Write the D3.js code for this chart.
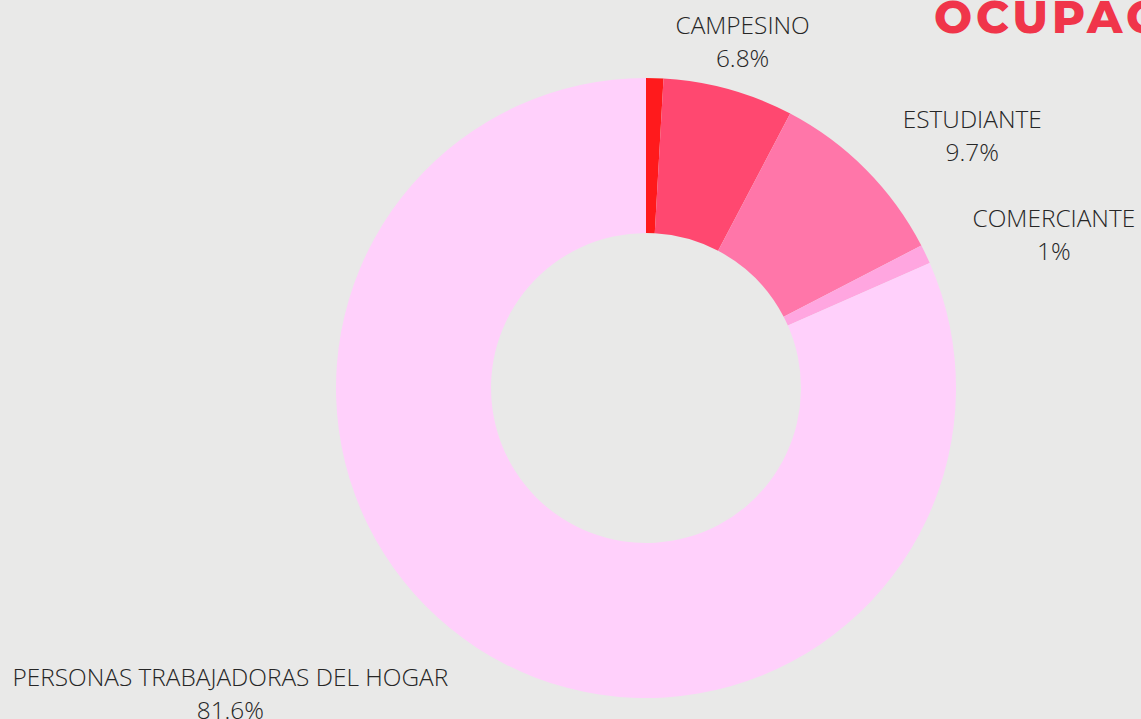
<!DOCTYPE html>
<html>
<head>
<meta charset="utf-8">
<script src="https://cdn.jsdelivr.net/npm/d3@7"></script>
<style>
  html, body { margin: 0; padding: 0; background: #e9e9e8; overflow: hidden; }
  svg { display: block; }
  .lbl { font-family: "Open Sans", sans-serif; font-weight: 300; font-size: 24.4px; fill: #262626; }
  .title { font-family: "Montserrat", "Inter", sans-serif; font-weight: 800; font-size: 45px; fill: #f0354a; letter-spacing: 4px; }
</style>
</head>
<body>
<svg id="chart" width="1141" height="719"></svg>
<script>
// share of each occupation (%), clockwise from top
let categories = ["", "CAMPESINO", "ESTUDIANTE", "COMERCIANTE", "PERSONAS TRABAJADORAS DEL HOGAR"]
let values = [0.9, 6.8, 9.7, 1, 81.6]
let valueLabels = ["", "6.8%", "9.7%", "1%", "81.6%"]
let colors = ["#ff1a1c", "#ff4870", "#ff76a9", "#ffa6e0", "#ffd0fb"]

let width = 1141, height = 719
let cx = 646, cy = 388
let outerR = 310, innerR = 155, labelR = 362

let svg = d3.select("#chart")

let data = categories.map((c, i) => ({ name: c, value: values[i], text: valueLabels[i], color: colors[i] }))

let pie = d3.pie().value(d => d.value).sort(null)
let arc = d3.arc().innerRadius(innerR).outerRadius(outerR)
let labelArc = d3.arc().innerRadius(labelR).outerRadius(labelR)

let g = svg.append("g").attr("transform", `translate(${cx},${cy})`)

g.selectAll("path").data(pie(data)).enter().append("path")
    .attr("d", arc)
    .attr("fill", d => d.data.color)

// labels: two centered lines, block pinned at the label point
// (centered near top/bottom, otherwise pushed away from the ring)
let labels = g.selectAll("text.lbl").data(pie(data).filter(d => d.data.name != "")).enter()
    .append("text")
    .attr("class", "lbl")
    .attr("text-anchor", "middle")
labels.append("tspan").attr("class", "l1").attr("y", -5).text(d => d.data.name)
labels.append("tspan").attr("class", "l2").attr("y", 28).text(d => d.data.text)

labels.each(function (d) {
    let t = d3.select(this)
    let w = Math.max(t.select(".l1").node().getComputedTextLength(), t.select(".l2").node().getComputedTextLength())
    let p = labelArc.centroid(d)
    let mid = (d.startAngle + d.endAngle) / 2
    let x = p[0]
    if (Math.abs(Math.sin(mid)) >= 0.35) {
        x = Math.sin(mid) > 0 ? p[0] + w / 2 : p[0] - w / 2
    }
    t.attr("transform", `translate(${x},${p[1]})`)
    t.selectAll("tspan").attr("x", 0)
})

// title (cut off by the frame, as in the original)
svg.append("text")
    .attr("class", "title")
    .attr("x", 934)
    .attr("y", 33)
    .text("OCUPACIÓN")
</script>
</body>
</html>
